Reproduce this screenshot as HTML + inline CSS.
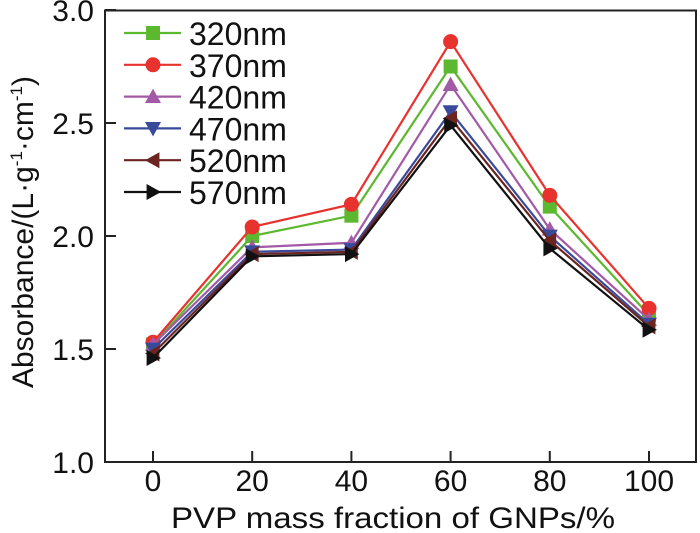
<!DOCTYPE html>
<html><head><meta charset="utf-8"><style>
html,body{margin:0;padding:0;background:#fff;}
svg{display:block;font-family:"Liberation Sans",Arial,sans-serif;}
</style></head><body>
<svg id="chart" width="700" height="533" viewBox="0 0 700 533">
<rect x="105" y="10.5" width="591" height="451.5" fill="none" stroke="#222" stroke-width="2"/>
<g id="axes"></g>
<g id="series"></g>
<g id="legend"></g>
<text x="393" y="528" font-size="30" text-anchor="middle" textLength="444" lengthAdjust="spacingAndGlyphs" fill="#111">PVP mass fraction of GNPs/%</text>
<text transform="translate(33,232) rotate(-90)" font-size="30" text-anchor="middle" fill="#111">Absorbance/(L·g<tspan dy="-11" font-size="17">-1</tspan><tspan dy="11">·cm</tspan><tspan dy="-11" font-size="17">-1</tspan><tspan dy="11">)</tspan></text>
</svg>
<script>
const categories = [0, 20, 40, 60, 80, 100];
const xTicks = ["0", "20", "40", "60", "80", "100"];
const yTicks = [1.0, 1.5, 2.0, 2.5, 3.0];
const seriesNames = ["320nm", "370nm", "420nm", "470nm", "520nm", "570nm"];
const s320 = [1.52, 2.00, 2.09, 2.75, 2.13, 1.65];
const s370 = [1.53, 2.04, 2.14, 2.86, 2.18, 1.68];
const s420 = [1.52, 1.95, 1.97, 2.67, 2.03, 1.63];
const s470 = [1.50, 1.93, 1.94, 2.55, 2.00, 1.61];
const s520 = [1.48, 1.92, 1.93, 2.52, 1.98, 1.60];
const s570 = [1.46, 1.91, 1.92, 2.49, 1.945, 1.585];
const colors = ["#5cb82e", "#e8322d", "#a25aa6", "#3a4a9a", "#6b2420", "#111111"];
const markers = ["square", "circle", "up", "down", "left", "right"];
const allSeries = [s320, s370, s420, s470, s520, s570];

const NS = "http://www.w3.org/2000/svg";
function X(v){ return 153 + (v - 0) / 100 * 496; }
function Y(v){ return 462 - (v - 1.0) / 2.0 * 452; }
function mk(tag, attrs, parent){ const e = document.createElementNS(NS, tag); for (const k in attrs) e.setAttribute(k, attrs[k]); parent.appendChild(e); return e; }

const axes = document.getElementById("axes");
categories.forEach((c, i) => {
  const t = mk("line", {x1: X(c), x2: X(c), y1: 462, y2: 451, stroke: "#222", "stroke-width": 2}, axes);
  
  
  const l = mk("text", {x: X(c), y: 491, "font-size": 30, "text-anchor": "middle", fill: "#111"}, axes);
  l.textContent = xTicks[i];
  
  
});
yTicks.forEach(v => {
  const t = mk("line", {x1: 105, x2: 116, y1: Y(v), y2: Y(v), stroke: "#222", "stroke-width": 2}, axes);
  
  
  const l = mk("text", {x: 94, y: Y(v) + 11, "font-size": 30, "text-anchor": "end", fill: "#111"}, axes);
  l.textContent = v.toFixed(1);
  
  
});

function marker(type, cx, cy, color, parent){
  const r = 8;
  let e;
  if (type === "square") e = mk("rect", {x: cx - 7, y: cy - 7, width: 14, height: 14, fill: color}, parent);
  else if (type === "circle") e = mk("circle", {cx: cx, cy: cy, r: 7.5, fill: color}, parent);
  else {
    let p;
    if (type === "up") p = [[cx, cy - r], [cx - r, cy + r * 0.8], [cx + r, cy + r * 0.8]];
    else if (type === "down") p = [[cx, cy + r], [cx - r, cy - r * 0.8], [cx + r, cy - r * 0.8]];
    else if (type === "left") p = [[cx - r, cy], [cx + r * 0.8, cy - r], [cx + r * 0.8, cy + r]];
    else p = [[cx + r, cy], [cx - r * 0.8, cy - r], [cx - r * 0.8, cy + r]];
    e = mk("polygon", {points: p.map(q => q.join(",")).join(" "), fill: color}, parent);
  }
  return e;
}

const sg = document.getElementById("series");
allSeries.forEach((vals, si) => {
  const g = mk("g", {}, sg);
  
  
  const pl = mk("polyline", {points: vals.map((v, i) => X(categories[i]) + "," + Y(v)).join(" "), fill: "none", stroke: colors[si], "stroke-width": 2.2}, g);
  
  
  vals.forEach((v, i) => {
    const m = marker(markers[si], X(categories[i]), Y(v), colors[si], g);
    
    
  });
});

const lg = document.getElementById("legend");
seriesNames.forEach((n, i) => {
  const y = 33 + i * 31.8;
  const g = mk("g", {}, lg);
  
  
  mk("line", {x1: 124, x2: 181, y1: y, y2: y, stroke: colors[i], "stroke-width": 2.2}, g);
  marker(markers[i], 153, y, colors[i], g);
  const t = mk("text", {x: 189, y: y + 12, "font-size": 32, fill: "#111"}, g);
  t.textContent = n;
});
</script>
</body></html>
